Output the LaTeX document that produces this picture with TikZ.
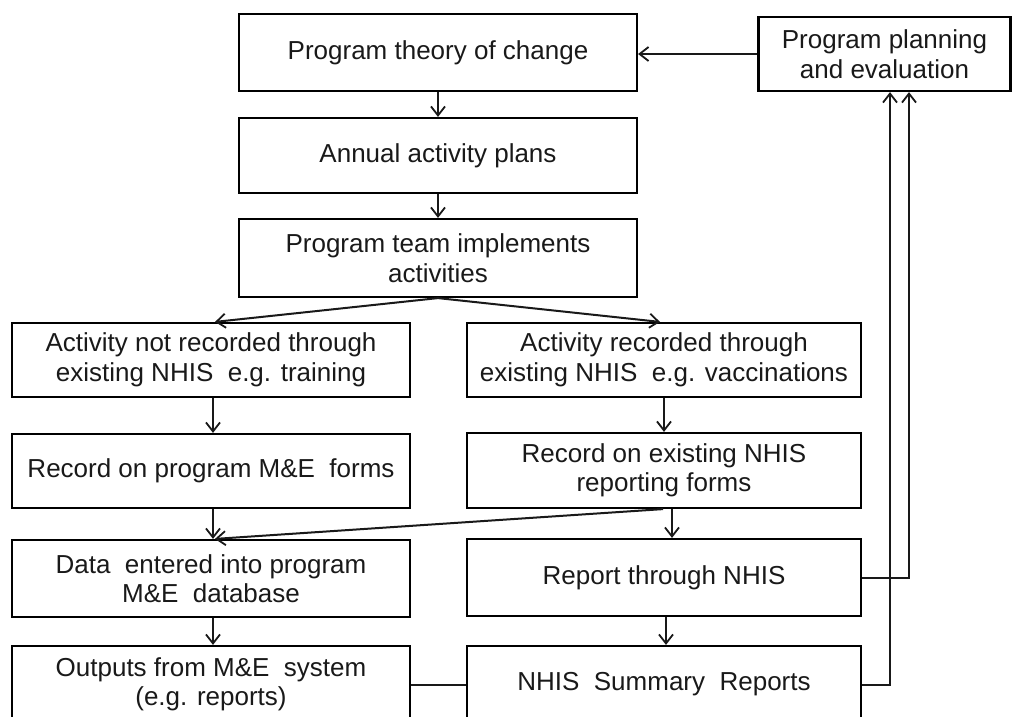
\documentclass[tikz,border=0pt]{standalone}
\usepackage{fontspec}
\setmainfont{Liberation Sans}
\usetikzlibrary{arrows.meta}
\begin{document}
\begin{tikzpicture}[x=1pt,y=-1pt,
  box/.style={draw=black,line width=2.2pt,align=center,inner sep=0pt,
    font=\fontsize{26}{29.5}\selectfont,text=black!90},
  conn/.style={line width=2pt,draw=black!90},
  arr/.style={conn,-{Straight Barb[length=9pt,width=14pt,line width=1.8pt]}}]
\useasboundingbox (0,0) rectangle (1013,717);
\clip (0,0) rectangle (1013,717);
% top column
\node[box,minimum width=398pt,minimum height=77pt] (theory) at (438,52.5) {Program theory of change};
\node[box,minimum width=252pt,minimum height=74pt] (plan) at (884.5,54) {Program planning\\and evaluation};
\node[box,minimum width=398pt,minimum height=75pt] (annual) at (438,155.5) {Annual activity plans};
\node[box,minimum width=398pt,minimum height=78pt] (team) at (438,258) {Program team implements\\activities};
% left column
\node[box,minimum width=398pt,minimum height=74pt] (notrec) at (211,360) {Activity not recorded through\\existing NHIS\ \ e.g. training};
\node[box,minimum width=398pt,minimum height=74pt] (progforms) at (211,471) {Record on program M\&E\ \ forms};
\node[box,minimum width=398pt,minimum height=77pt] (data) at (211,578.5) {Data\ \ entered into program\\M\&E\ \ database};
\node[box,minimum width=398pt,minimum height=77pt] (outputs) at (211,684.5) {Outputs from M\&E\ \ system\\(e.g. reports)};
% right column
\node[box,minimum width=394pt,minimum height=74pt] (rec) at (664,360) {Activity recorded through\\existing NHIS\ \ e.g. vaccinations};
\node[box,minimum width=394pt,minimum height=75pt] (nhisforms) at (664,470.5) {Record on existing NHIS\\reporting forms};
\node[box,minimum width=394pt,minimum height=77pt] (report) at (664,577.5) {Report through NHIS};
\node[box,minimum width=394pt,minimum height=77pt] (summary) at (664,684.5) {NHIS\ \ Summary\ \ Reports};
% coordinates for feedback lines
\coordinate (c1) at (909,0);
\coordinate (c2) at (890,0);
% connectors
\draw[arr] (plan.west) -- (theory.east |- plan.west);
\draw[arr] (theory) -- (annual);
\draw[arr] (annual) -- (team);
\draw[arr] (team.south) -- ([xshift=4pt]notrec.north);
\draw[arr] (team.south) -- ([xshift=-4pt]rec.north);
\draw[arr] ([xshift=2pt]notrec.south) -- ([xshift=2pt]progforms.north);
\draw[arr] (rec) -- (nhisforms);
\draw[arr] ([xshift=2pt]progforms.south) -- ([xshift=2pt]data.north);
\draw[arr] ([xshift=-1pt]nhisforms.south) -- ([xshift=4pt]data.north);
\draw[arr] ([xshift=8pt]nhisforms.south) -- ([xshift=8pt]report.north);
\draw[arr] ([xshift=2pt]data.south) -- ([xshift=2pt]outputs.north);
\draw[arr] ([xshift=2pt]report.south) -- ([xshift=2pt]summary.north);
\draw[conn] (outputs.east) -- (summary.west);
\draw[arr] (report.east) -| (c1 |- plan.south);
\draw[arr] (summary.east) -| (c2 |- plan.south);
\end{tikzpicture}
\end{document}
